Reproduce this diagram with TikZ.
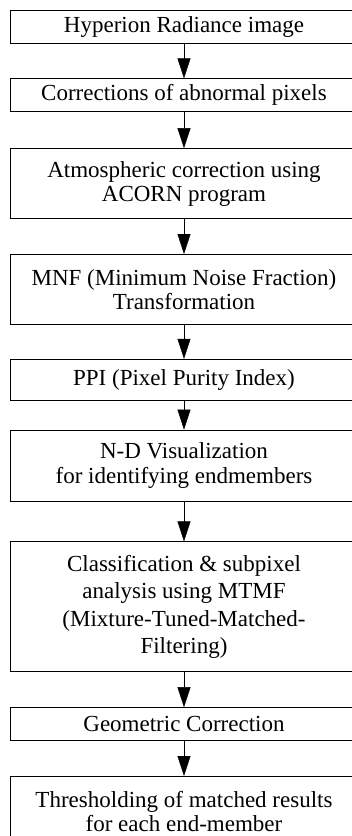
\documentclass[tikz,border=0pt]{standalone}
\usepackage{fontspec}
\setmainfont{Liberation Serif}
\usepackage{tikz}
\usetikzlibrary{arrows.meta,positioning}

\begin{document}
\begin{tikzpicture}[%
    >={Triangle[length=20pt,width=13pt]},
    node distance=35pt,
    stage/.style={draw, rectangle, line width=0.8pt, inner sep=0pt,
      minimum width=348pt, minimum height=33pt, align=center,
      font=\fontsize{23}{23.8}\selectfont}
  ]
  \useasboundingbox (0,0) rectangle (352pt,-836pt);
  \clip (0,0) rectangle (352pt,-836pt);

  \node[stage] (1) at (184pt,-26.5pt) {Hyperion Radiance image};
  \node[stage] (2) [below=of 1] {Corrections of abnormal pixels};
  \node[stage, minimum height=70pt] (3) [below=36pt of 2]
    {Atmospheric correction using\\ACORN program};
  \node[stage, minimum height=70pt] (4) [below=of 3]
    {MNF (Minimum Noise Fraction)\\Transformation};
  \node[stage, minimum height=41pt] (5) [below=34pt of 4]
    {PPI (Pixel Purity Index)};
  \node[stage, minimum height=71pt, font=\fontsize{23}{25}\selectfont] (6) [below=29pt of 5]
    {N-D Visualization\\for identifying endmembers};
  \node[stage, minimum height=130pt, font=\fontsize{23}{27.5}\selectfont] (7) [below=40pt of 6]
    {Classification \& subpixel\\analysis using MTMF\\(Mixture-Tuned-Matched-\\Filtering)};
  \node[stage] (8) [below=of 7] {Geometric Correction};
  \node[stage, minimum height=70pt] (9) [below=of 8]
    {Thresholding of matched results\\for each end-member};

  \path[->] (1) edge (2);
  \path[->] (2) edge (3);
  \path[->] (3) edge (4);
  \path[->] (4) edge (5);
  \path[->] (5) edge (6);
  \path[->] (6) edge (7);
  \path[->] (7) edge (8);
  \path[->] (8) edge (9);

\end{tikzpicture}
\end{document}
